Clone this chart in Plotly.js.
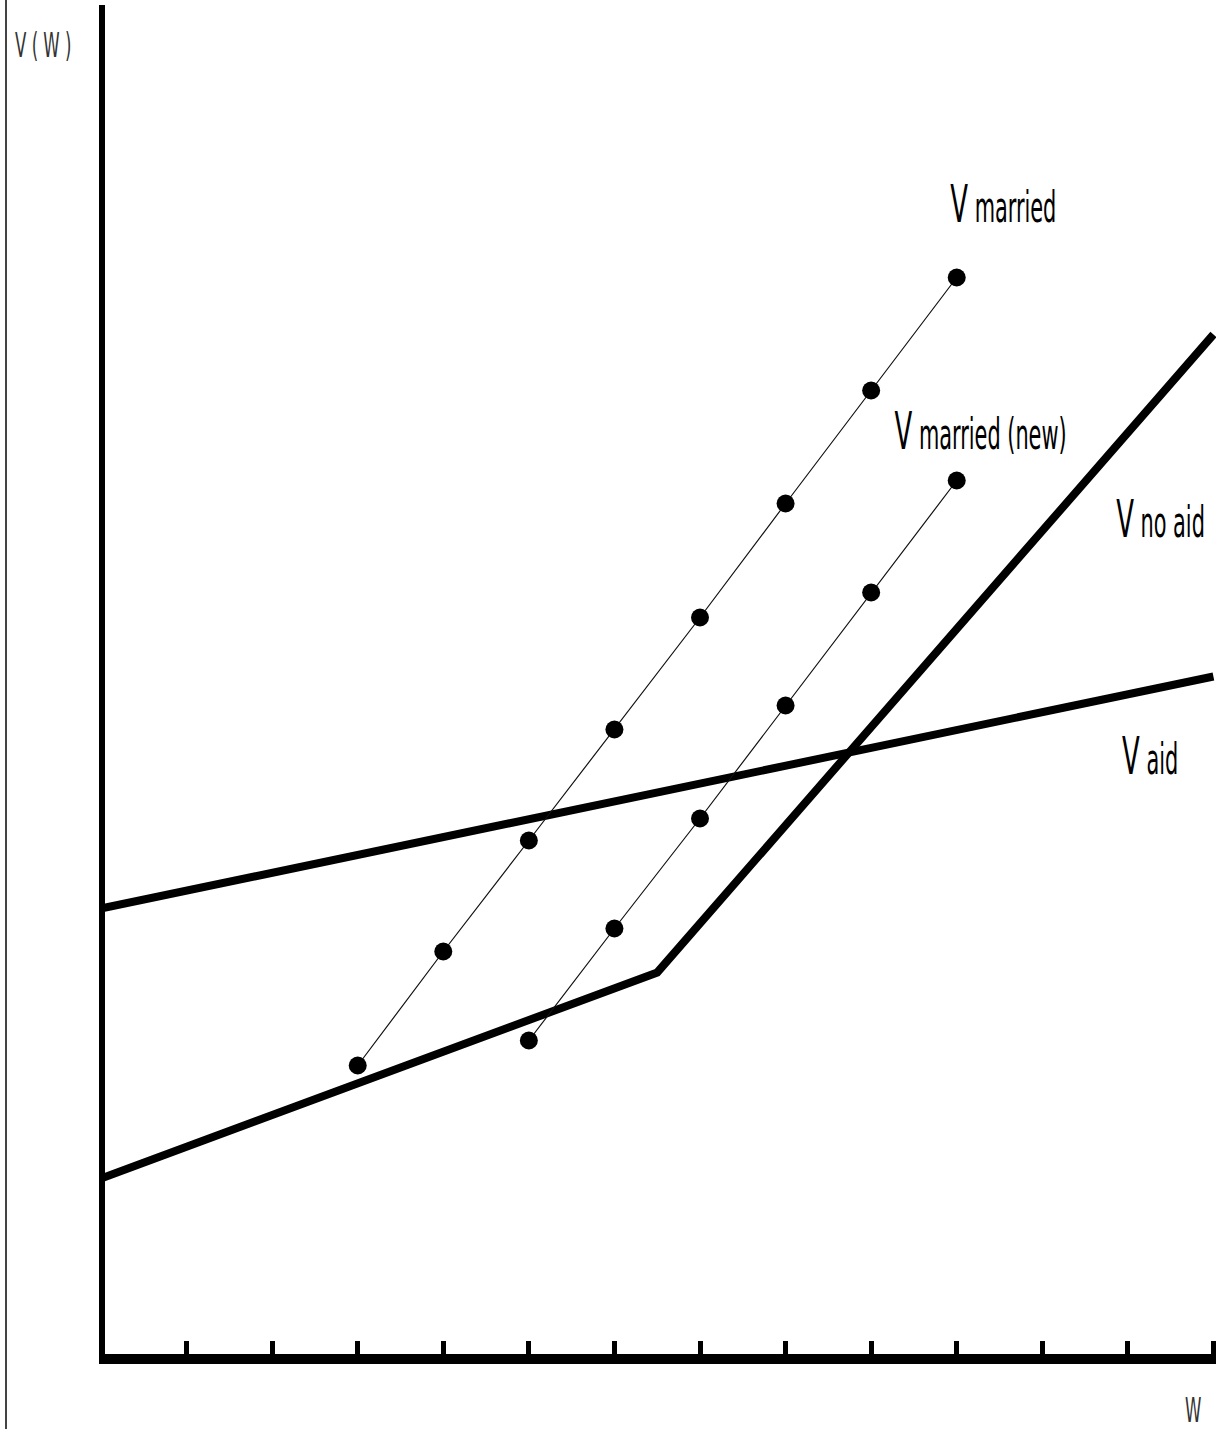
<!DOCTYPE html>
<html>
<head>
<meta charset="utf-8">
<script src="https://cdn.plot.ly/plotly-3.0.1.min.js"></script>
<style>
  html, body { margin: 0; padding: 0; background: #ffffff; }
  #frame { position: absolute; left: 5px; top: 0; width: 2px; height: 1429px; background: #444; z-index: 10; }
  #chart { position: absolute; left: 0; top: 0; width: 1225px; height: 1429px; }
  .annotation text { transform-box: fill-box; transform-origin: center; transform: scale(0.8, 1.45); }
</style>
</head>
<body>
<div id="chart"></div>
<div id="frame"></div>
<script>
// ---- data (w on x, V(w) on y, arbitrary units) ----
var wTicks = [1,2,3,4,5,6,7,8,9,10,11,12,13];

var wAid = [0, 13];
var vAid = [45.0, 68.2];

var wNoAid = [0, 6.5, 13];
var vNoAid = [18.0, 38.6, 102.4];

var wMarried = [3, 4, 5, 6, 7, 8, 9, 10];
var vMarried = [29.3, 40.7, 51.8, 62.9, 74.1, 85.5, 96.8, 108.1];

var wMarriedNew = [5, 6, 7, 8, 9, 10];
var vMarriedNew = [31.8, 43.0, 54.0, 65.3, 76.6, 87.8];

var labels = ["V married", "V married (new)", "V no aid", "V aid"];

var thick = {color: '#000', width: 8};
var thin = {color: '#111', width: 1.2};
var dot = {color: '#000', size: 18, symbol: 'circle'};

var traces = [
  {x: wAid, y: vAid, mode: 'lines', line: thick, name: labels[3]},
  {x: wNoAid, y: vNoAid, mode: 'lines', line: thick, name: labels[2]},
  {x: wMarried, y: vMarried, mode: 'lines+markers', line: thin, marker: dot, name: labels[0]},
  {x: wMarriedNew, y: vMarriedNew, mode: 'lines+markers', line: thin, marker: dot, name: labels[1]}
];

var labFont = {family: '"Liberation Sans Narrow", "DejaVu Sans Condensed", Arial, sans-serif', size: 29, color: '#000'};
function big(s) { return "<span style='font-size:36px'>V</span> " + s; }

var layout = {
  width: 1225, height: 1429,
  margin: {l: 105, r: 8.5, t: 5, b: 75, pad: 0},
  paper_bgcolor: '#fff', plot_bgcolor: '#fff',
  showlegend: false,
  hovermode: false,
  xaxis: {
    range: [0.0467, 13.03], showgrid: false, zeroline: false,
    showline: true, linewidth: 10, linecolor: '#000',
    tickmode: 'array', tickvals: wTicks, ticks: 'inside', ticklen: 13, tickwidth: 5, tickcolor: '#000',
    showticklabels: false, fixedrange: true
  },
  yaxis: {
    range: [0.45, 135.35], showgrid: false, zeroline: false,
    showline: true, linewidth: 6, linecolor: '#000',
    ticks: '', showticklabels: false, fixedrange: true
  },
  annotations: [
    {x: 10.55, y: 115.5, xref: 'x', yref: 'y', text: big('married'), showarrow: false, xanchor: 'center', yanchor: 'middle', font: labFont},
    {x: 10.28, y: 92.8, xref: 'x', yref: 'y', text: big('married (new)'), showarrow: false, xanchor: 'center', yanchor: 'middle', font: labFont},
    {x: 12.38, y: 84.0, xref: 'x', yref: 'y', text: big('no aid'), showarrow: false, xanchor: 'center', yanchor: 'middle', font: labFont},
    {x: 12.26, y: 60.3, xref: 'x', yref: 'y', text: big('aid'), showarrow: false, xanchor: 'center', yanchor: 'middle', font: labFont},
    {x: -0.0559, y: 0.970, xref: 'paper', yref: 'paper', text: 'V ( W )', showarrow: false, xanchor: 'center', yanchor: 'middle',
     font: {family: labFont.family, size: 23, color: '#333'}},
    {x: 0.979, y: -0.0415, xref: 'paper', yref: 'paper', text: 'W', showarrow: false, xanchor: 'center', yanchor: 'middle',
     font: {family: labFont.family, size: 23, color: '#333'}}
  ]
};

Plotly.newPlot('chart', traces, layout, {displayModeBar: false, staticPlot: true});
</script>
</body>
</html>
